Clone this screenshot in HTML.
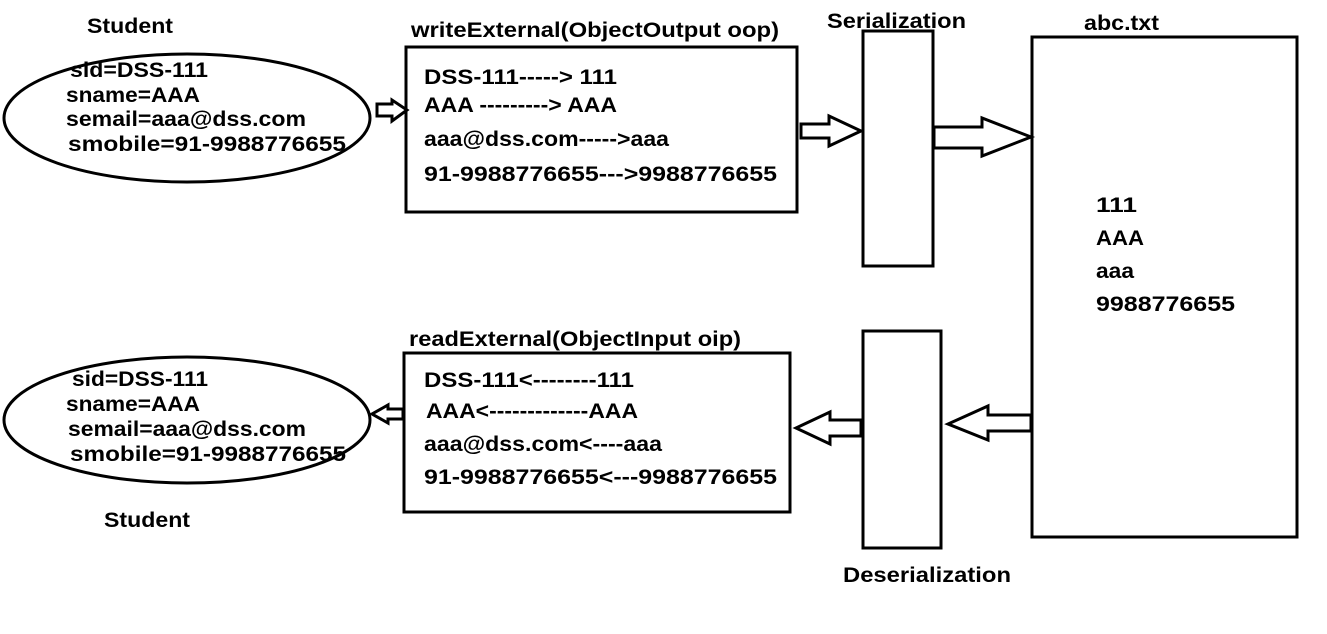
<!DOCTYPE html>
<html><head><meta charset="utf-8"><style>
html,body{margin:0;padding:0;background:#fff;}
svg text{font-family:"Liberation Sans",Arial,sans-serif;font-weight:bold;font-size:21px;fill:#000;}
</style></head><body>
<svg width="1327" height="629" xmlns="http://www.w3.org/2000/svg">
<g fill="none" stroke="#000" stroke-width="3">
<ellipse cx="187" cy="118" rx="183" ry="64"/>
<ellipse cx="187" cy="420" rx="183" ry="63"/>
<rect x="406" y="47" width="391" height="165"/>
<rect x="863" y="31" width="70" height="235"/>
<rect x="1032" y="37" width="265" height="500"/>
<rect x="863" y="331" width="78" height="217"/>
<rect x="404" y="353" width="386" height="159"/>
<path d="M377 104H392V100L407 110L392 121V116H377Z"/>
<path d="M801 124H829V116L861 131L829 146V138H801Z"/>
<path d="M934 127H982V118L1031 137L982 156V148H934Z"/>
<path d="M1031 415H988V406L948 424L988 440V431H1031Z"/>
<path d="M861 420H830V412L796 428L830 444V436H861Z"/>
<path d="M403 409H388V405L372 414L388 423V419H403Z"/>
</g>
<g lengthAdjust="spacingAndGlyphs">
<text x="87" y="33" textLength="86" lengthAdjust="spacingAndGlyphs">Student</text>
<text x="70" y="77" textLength="138" lengthAdjust="spacingAndGlyphs">sid=DSS-111</text>
<text x="66" y="102" textLength="134" lengthAdjust="spacingAndGlyphs">sname=AAA</text>
<text x="66" y="126" textLength="240" lengthAdjust="spacingAndGlyphs">semail=aaa@dss.com</text>
<text x="68" y="151" textLength="278" lengthAdjust="spacingAndGlyphs">smobile=91-9988776655</text>
<text x="411" y="37" textLength="368" lengthAdjust="spacingAndGlyphs">writeExternal(ObjectOutput oop)</text>
<text x="424" y="84" textLength="193" lengthAdjust="spacingAndGlyphs">DSS-111-----&gt; 111</text>
<text x="424" y="112" textLength="193" lengthAdjust="spacingAndGlyphs">AAA ---------&gt; AAA</text>
<text x="424" y="146" textLength="245" lengthAdjust="spacingAndGlyphs">aaa@dss.com-----&gt;aaa</text>
<text x="424" y="181" textLength="353" lengthAdjust="spacingAndGlyphs">91-9988776655---&gt;9988776655</text>
<text x="827" y="28" textLength="139" lengthAdjust="spacingAndGlyphs">Serialization</text>
<text x="1084" y="30" textLength="75" lengthAdjust="spacingAndGlyphs">abc.txt</text>
<text x="1096" y="212" textLength="41" lengthAdjust="spacingAndGlyphs">111</text>
<text x="1096" y="245" textLength="48" lengthAdjust="spacingAndGlyphs">AAA</text>
<text x="1096" y="278" textLength="38" lengthAdjust="spacingAndGlyphs">aaa</text>
<text x="1096" y="311" textLength="139" lengthAdjust="spacingAndGlyphs">9988776655</text>
<text x="409" y="346" textLength="332" lengthAdjust="spacingAndGlyphs">readExternal(ObjectInput oip)</text>
<text x="424" y="387" textLength="210" lengthAdjust="spacingAndGlyphs">DSS-111&lt;--------111</text>
<text x="426" y="418" textLength="212" lengthAdjust="spacingAndGlyphs">AAA&lt;-------------AAA</text>
<text x="424" y="451" textLength="238" lengthAdjust="spacingAndGlyphs">aaa@dss.com&lt;----aaa</text>
<text x="424" y="484" textLength="353" lengthAdjust="spacingAndGlyphs">91-9988776655&lt;---9988776655</text>
<text x="72" y="386" textLength="136" lengthAdjust="spacingAndGlyphs">sid=DSS-111</text>
<text x="66" y="411" textLength="134" lengthAdjust="spacingAndGlyphs">sname=AAA</text>
<text x="68" y="436" textLength="238" lengthAdjust="spacingAndGlyphs">semail=aaa@dss.com</text>
<text x="70" y="461" textLength="276" lengthAdjust="spacingAndGlyphs">smobile=91-9988776655</text>
<text x="104" y="527" textLength="86" lengthAdjust="spacingAndGlyphs">Student</text>
<text x="843" y="582" textLength="168" lengthAdjust="spacingAndGlyphs">Deserialization</text>
</g>
</svg>
</body></html>
